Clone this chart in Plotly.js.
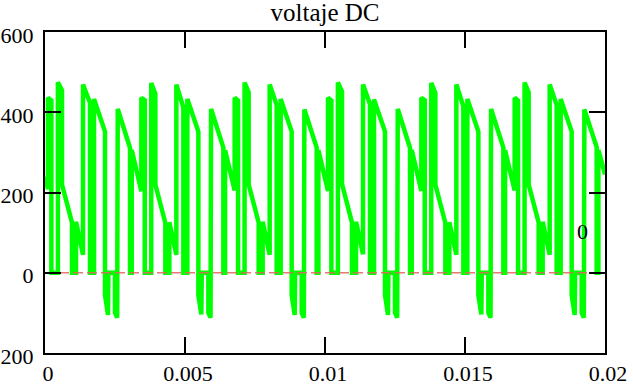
<!DOCTYPE html>
<html>
<head>
<meta charset="utf-8">
<script src="https://cdn.plot.ly/plotly-3.0.1.min.js"></script>
<style>html,body{margin:0;padding:0;background:#fff;}#chart{width:633px;height:386px;}</style>
</head>
<body>
<div id="chart"></div>
<script>
// Time (s) and voltage (V), one array pair per 1/300 s segment
const t_p0 = [0, 0.000107, 0.000107, 0.000228, 0.000228, 0.000460, 0.000460, 0.000607, 0.000607, 0.000964, 0.000964, 0.001107, 0.001107, 0.001357, 0.001357, 0.001607, 0.001607, 0.001750, 0.001750, 0.002143, 0.002143, 0.002250, 0.002264, 0.002500, 0.002500, 0.002578];
const v_p0 = [240, 208, 436, 429, 0, 0, 475, 455, 220, 125, 0, 0, 127, 45, 469, 424, 0, 0, 433, 352, -55, -105, 0, 0, -100, -112];

const t_p1 = [0.002598, 0.003037, 0.003037, 0.003098, 0.003098, 0.003441, 0.003441, 0.003562, 0.003562, 0.003794, 0.003794, 0.003941, 0.003941, 0.004298, 0.004298, 0.004441, 0.004441, 0.004691, 0.004691, 0.004941, 0.004941, 0.005084, 0.005084, 0.005477, 0.005477, 0.005584, 0.005598, 0.005834, 0.005834, 0.005912];
const v_p1 = [408, 311, 0, 0, 306, 203, 436, 430, 0, 0, 473, 446, 220, 124, 0, 0, 126, 45, 469, 412, 0, 0, 433, 352, -56, -104, 0, 0, -100, -112];

const t_p2 = [0.005931, 0.006370, 0.006370, 0.006431, 0.006431, 0.006774, 0.006774, 0.006895, 0.006895, 0.007127, 0.007127, 0.007274, 0.007274, 0.007631, 0.007631, 0.007774, 0.007774, 0.008024, 0.008024, 0.008274, 0.008274, 0.008417, 0.008417, 0.008810, 0.008810, 0.008917, 0.008931, 0.009167, 0.009167, 0.009245];
const v_p2 = [408, 312, 0, 0, 305, 205, 436, 429, 0, 0, 474, 450, 220, 125, 0, 0, 127, 45, 469, 418, 0, 0, 433, 352, -55, -105, 0, 0, -100, -112];

const t_p3 = [0.009264, 0.009703, 0.009703, 0.009764, 0.009764, 0.010107, 0.010107, 0.010228, 0.010228, 0.010460, 0.010460, 0.010607, 0.010607, 0.010964, 0.010964, 0.011107, 0.011107, 0.011357, 0.011357, 0.011607, 0.011607, 0.011750, 0.011750, 0.012143, 0.012143, 0.012250, 0.012264, 0.012500, 0.012500, 0.012578];
const v_p3 = [407, 312, 0, 0, 305, 204, 436, 429, 0, 0, 474, 452, 221, 125, 0, 0, 127, 46, 469, 420, 0, 0, 432, 352, -55, -105, 0, 0, -100, -112];

const t_p4 = [0.012598, 0.013037, 0.013037, 0.013098, 0.013098, 0.013441, 0.013441, 0.013562, 0.013562, 0.013794, 0.013794, 0.013941, 0.013941, 0.014298, 0.014298, 0.014441, 0.014441, 0.014691, 0.014691, 0.014941, 0.014941, 0.015084, 0.015084, 0.015477, 0.015477, 0.015584, 0.015598, 0.015834, 0.015834, 0.015912];
const v_p4 = [408, 311, 0, 0, 306, 204, 436, 430, 0, 0, 473, 448, 220, 124, 0, 0, 126, 45, 469, 415, 0, 0, 433, 352, -56, -104, 0, 0, -100, -112];

const t_p5 = [0.015931, 0.016370, 0.016370, 0.016431, 0.016431, 0.016774, 0.016774, 0.016895, 0.016895, 0.017127, 0.017127, 0.017274, 0.017274, 0.017631, 0.017631, 0.017774, 0.017774, 0.018024, 0.018024, 0.018274, 0.018274, 0.018417, 0.018417, 0.018810, 0.018810, 0.018917, 0.018931, 0.019167, 0.019167, 0.019245];
const v_p5 = [408, 312, 0, 0, 305, 205, 436, 429, 0, 0, 474, 450, 220, 125, 0, 0, 127, 45, 469, 418, 0, 0, 433, 352, -55, -105, 0, 0, -100, -112];

const t_p6 = [0.019264, 0.019703, 0.019703, 0.019764, 0.019764, 0.020000];
const v_p6 = [407, 313, 0, 0, 306, 245];

const zeroT = [0, 0.02];
const zeroV = [0, 0];

const xTicks = [0, 0.005, 0.01, 0.015, 0.02];
const xTickText = ['0', '0.005', '0.01', '0.015', '0.02'];
const yTicks = [-200, 0, 200, 400, 600];
const yTickText = ['\u2212200', '0', '200', '400', '600'];

const titleText = 'voltaje DC';
const markerLabel = '0';

const tAll = [].concat(t_p0, t_p1, t_p2, t_p3, t_p4, t_p5, t_p6);
const vAll = [].concat(v_p0, v_p1, v_p2, v_p3, v_p4, v_p5, v_p6);

const FONT = '"Liberation Serif", "Times New Roman", serif';

const traces = [
  {x: tAll, y: vAll, type: 'scatter', mode: 'lines',
   line: {color: '#00ff00', width: 4.5}, hoverinfo: 'skip'},
  {x: zeroT, y: zeroV, type: 'scatter', mode: 'lines',
   line: {color: 'rgb(232,96,96)', width: 1.5, dash: '10px,4px'}, opacity: 0.85, hoverinfo: 'skip'}
];

const axisCommon = {
  showline: true, linecolor: '#000', linewidth: 2, mirror: 'ticks',
  ticks: 'inside', ticklen: 16, tickwidth: 2, tickcolor: '#000',
  showgrid: false, zeroline: false,
  tickfont: {family: FONT, size: 22, color: '#000'}
};

const layout = {
  width: 633, height: 386,
  margin: {l: 45, r: 28, t: 32, b: 33, pad: 0},
  paper_bgcolor: '#fff', plot_bgcolor: '#fff',
  showlegend: false,
  font: {family: FONT, color: '#000'},
  title: {text: titleText, font: {family: FONT, size: 25, color: '#000'},
          xref: 'paper', x: 0.5, xanchor: 'center',
          yref: 'container', y: 0.968, yanchor: 'middle'},
  xaxis: Object.assign({}, axisCommon, {range: [0, 0.02], tickmode: 'array',
          tickvals: xTicks, ticktext: xTickText, ticklabelshift: 3}),
  yaxis: Object.assign({}, axisCommon, {range: [-200, 600], tickmode: 'array',
          tickvals: yTicks, ticktext: yTickText, ticklabelstandoff: 5, ticklabelshift: 3}),
  annotations: [{x: 0.0192, y: 104, xref: 'x', yref: 'y', text: markerLabel,
                 showarrow: false, font: {family: FONT, size: 22, color: '#000'}}]
};

Plotly.newPlot('chart', traces, layout, {staticPlot: true, displayModeBar: false});
</script>
</body>
</html>
